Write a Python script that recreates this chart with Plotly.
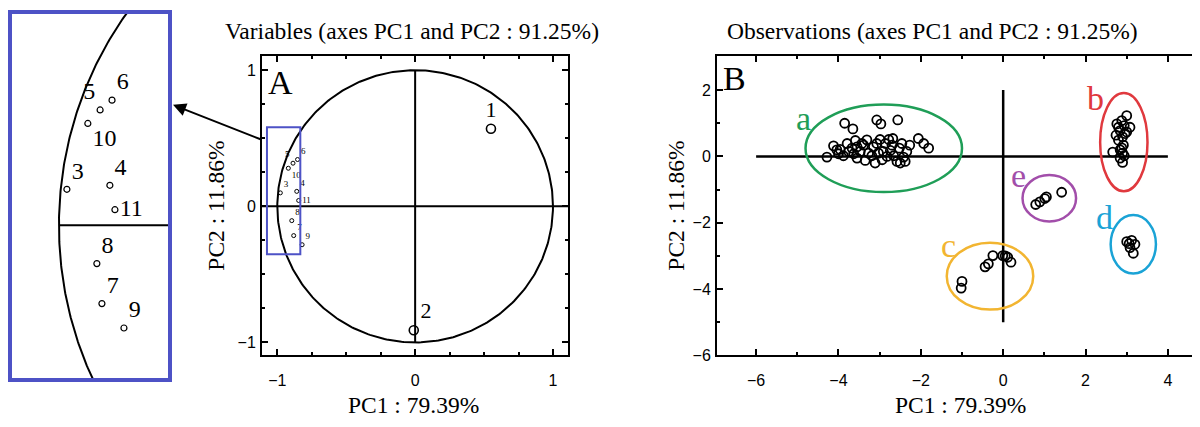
import numpy as np
import plotly.graph_objects as go

# ---------------- data ----------------
# Panel A: variable loadings (PC1, PC2)
var_labels = ["1", "2", "3", "4", "5", "6", "7", "8", "9", "10", "11"]
var_pc1 = [0.55, -0.01, -0.978, -0.859, -0.886, -0.853, -0.881, -0.895, -0.820, -0.920, -0.845]
var_pc2 = [0.57, -0.91, 0.099, 0.110, 0.317, 0.344, -0.215, -0.105, -0.282, 0.280, 0.043]
var_textpos = ["top center", "top right", "top right", "top right", "top left", "top right",
               "top right", "top right", "top right", "bottom right", "middle right"]

# Panel B: observation scores by group
grp_a_x = [-3.85, -3.65, -3.07, -2.97, -2.56, -4.28, -4.12, -3.96, -3.79, -3.67, -3.59, -3.47,
           -3.39, -3.31, -3.27, -3.35, -3.15, -3.11, -3.07, -2.99, -2.94, -2.91, -2.78, -2.68,
           -2.74, -2.58, -2.52, -2.46, -2.42, -2.50, -2.38, -2.27, -2.06, -1.93, -1.81, -4.00,
           -3.88, -3.55, -3.75, -3.63, -3.19, -3.03, -2.82, -2.66, -2.70, -3.43, -4.04, -3.55,
           -2.86, -2.34]
grp_a_y = [1.00, 0.83, 1.10, 0.98, 1.10, -0.02, 0.32, 0.21, 0.39, 0.25, 0.48, 0.15,
           0.34, 0.50, 0.10, -0.12, 0.29, -0.20, 0.39, 0.51, -0.10, 0.15, 0.51, 0.54,
           0.18, -0.15, 0.25, 0.39, -0.02, -0.20, -0.15, 0.34, 0.54, 0.39, 0.25, 0.08,
           0.02, -0.05, 0.15, 0.08, 0.02, 0.10, 0.00, 0.02, 0.34, 0.39, 0.20, 0.29,
           0.39, 0.15]
grp_b_x = [3.00, 2.88, 2.76, 2.94, 3.08, 2.84, 2.96, 2.74, 2.90, 2.80, 2.92, 2.88, 2.84,
           2.66, 2.90, 2.94, 2.84, 2.90, 3.00, 2.80]
grp_b_y = [1.23, 1.08, 0.98, 0.93, 0.88, 0.78, 0.69, 0.64, 0.59, 0.49, 0.34, 0.26, 0.20,
           0.13, 0.10, 0.02, -0.05, -0.18, 0.74, 0.88]
grp_c_x = [-1.00, -1.02, -0.44, -0.36, -0.25, -0.01, 0.11, 0.19, 0.05]
grp_c_y = [-3.77, -3.97, -3.33, -3.24, -2.99, -2.99, -3.04, -3.19, -3.00]
grp_d_x = [3.00, 3.12, 3.20, 3.08, 3.16, 3.06]
grp_d_y = [-2.57, -2.53, -2.65, -2.75, -2.92, -2.63]
grp_e_x = [0.79, 1.01, 1.05, 1.42, 0.89]
grp_e_y = [-1.45, -1.27, -1.22, -1.08, -1.37]

# Group ellipses (centre, radii) and label positions
ell_labels = ["a", "b", "c", "d", "e"]
ell_colors = ["#1f9e57", "#e0393e", "#f2b531", "#1aa3d6", "#a24eaa"]
ell_cx = [-2.90, 2.93, -0.32, 3.16, 1.12]
ell_cy = [0.245, 0.43, -3.61, -2.65, -1.26]
ell_rx = [1.90, 0.575, 1.05, 0.55, 0.65]
ell_ry = [1.32, 1.48, 1.01, 0.88, 0.70]
lab_x = [-4.85, 2.25, -1.33, 2.45, 0.36]
lab_y = [1.15, 1.76, -2.70, -1.85, -0.59]

SERIF = "Liberation Serif, Times New Roman, serif"
SANS = "Liberation Sans, Arial, sans-serif"
BLUE = "#4d52c6"

# the page has an 8px body margin: the figure is sized to end exactly at the window edge
OFF = 8
W, H = 1200 - OFF, 427 - OFF


def px(p):
    return (p - OFF) / W


def py(p):
    return 1 - (p - OFF) / H


fig = go.Figure()

# ---------------- Panel A ----------------
theta = np.linspace(0, 2 * np.pi, 400)
fig.add_trace(go.Scatter(x=np.cos(theta), y=np.sin(theta), mode="lines",
                         line=dict(color="black", width=2), xaxis="x2", yaxis="y2",
                         hoverinfo="skip", showlegend=False))
fig.add_trace(go.Scatter(x=[-1.2, 1.2], y=[0, 0], mode="lines", line=dict(color="black", width=2),
                         xaxis="x2", yaxis="y2", showlegend=False))
fig.add_trace(go.Scatter(x=[0, 0], y=[-1, 1], mode="lines", line=dict(color="black", width=2),
                         xaxis="x2", yaxis="y2", showlegend=False))
fig.add_trace(go.Scatter(x=var_pc1[:2], y=var_pc2[:2], mode="markers+text", text=var_labels[:2],
                         textposition=var_textpos[:2],
                         textfont=dict(family=SERIF, size=22, color="black"),
                         marker=dict(symbol="circle-open", size=9, color="black", line=dict(width=1.6)),
                         xaxis="x2", yaxis="y2", showlegend=False))
fig.add_trace(go.Scatter(x=var_pc1[2:], y=var_pc2[2:], mode="markers+text", text=var_labels[2:],
                         textposition=var_textpos[2:],
                         textfont=dict(family=SERIF, size=9, color="black"),
                         marker=dict(symbol="circle-open", size=4, color="black", line=dict(width=1)),
                         xaxis="x2", yaxis="y2", showlegend=False))
# blue zoom box in A
fig.add_shape(type="rect", xref="x2", yref="y2", x0=-1.075, x1=-0.833, y0=-0.352, y1=0.582,
              line=dict(color=BLUE, width=2))

# ---------------- Inset ----------------
ty = np.linspace(-0.6, 0.7, 200)
fig.add_trace(go.Scatter(x=-np.sqrt(1 - ty ** 2), y=ty, mode="lines",
                         line=dict(color="black", width=2), xaxis="x3", yaxis="y3",
                         hoverinfo="skip", showlegend=False))
fig.add_trace(go.Scatter(x=[-1.0, -0.6], y=[0, 0], mode="lines", line=dict(color="black", width=2),
                         xaxis="x3", yaxis="y3", showlegend=False))
fig.add_trace(go.Scatter(x=var_pc1[2:], y=var_pc2[2:], mode="markers+text", text=var_labels[2:],
                         textposition=var_textpos[2:],
                         textfont=dict(family=SERIF, size=24, color="black"),
                         marker=dict(symbol="circle-open", size=6, color="black", line=dict(width=1.2)),
                         xaxis="x3", yaxis="y3", showlegend=False))

# ---------------- Panel B ----------------
fig.add_trace(go.Scatter(x=[-6, 4], y=[0, 0], mode="lines", line=dict(color="black", width=2.5),
                         xaxis="x", yaxis="y", showlegend=False))
fig.add_trace(go.Scatter(x=[0, 0], y=[-5, 2], mode="lines", line=dict(color="black", width=2.5),
                         xaxis="x", yaxis="y", showlegend=False))
for gx, gy in [(grp_a_x, grp_a_y), (grp_b_x, grp_b_y), (grp_c_x, grp_c_y),
               (grp_d_x, grp_d_y), (grp_e_x, grp_e_y)]:
    fig.add_trace(go.Scatter(x=gx, y=gy, mode="markers",
                             marker=dict(symbol="circle-open", size=9, color="black", line=dict(width=1.8)),
                             xaxis="x", yaxis="y", showlegend=False))
for i, lab in enumerate(ell_labels):
    fig.add_shape(type="circle", xref="x", yref="y",
                  x0=ell_cx[i] - ell_rx[i], x1=ell_cx[i] + ell_rx[i],
                  y0=ell_cy[i] - ell_ry[i], y1=ell_cy[i] + ell_ry[i],
                  line=dict(color=ell_colors[i], width=2.5))
    fig.add_annotation(x=lab_x[i], y=lab_y[i], xref="x", yref="y", text=lab, showarrow=False,
                       xanchor="center", yanchor="middle",
                       font=dict(family=SERIF, size=34, color=ell_colors[i]))

# ---------------- axes ----------------
tick_font = dict(family=SANS, size=16, color="black")
common = dict(showgrid=False, zeroline=False, showline=True, linecolor="black", linewidth=2,
              ticks="inside", ticklen=6, tickwidth=1.5, tickcolor="black", tickfont=tick_font)

fig.update_layout(
    width=W, height=H, margin=dict(l=0, r=0, t=0, b=0),
    plot_bgcolor="white", paper_bgcolor="white", showlegend=False,
    xaxis=dict(domain=[px(717), 1.0], range=[-6.95, 4.78], dtick=2, mirror="allticks", ticklabelstandoff=9,
               minor=dict(dtick=1, ticks="inside", ticklen=3, tickcolor="black"), anchor="y", **common),
    yaxis=dict(domain=[py(363), py(57)], range=[-6.0, 3.03], dtick=2, mirror=False, ticklabelstandoff=1,
               minor=dict(dtick=1, ticks="inside", ticklen=3, tickcolor="black"), anchor="x", **common),
    xaxis2=dict(domain=[px(262), px(568)], range=[-1.111, 1.109], dtick=1, mirror="allticks",
                ticklabelstandoff=9,
                minor=dict(dtick=0.25, ticks="inside", ticklen=3, tickcolor="black"), anchor="y2", **common),
    yaxis2=dict(domain=[py(363), py(57)], range=[-1.095, 1.105], dtick=1, mirror="allticks",
                ticklabelstandoff=1,
                minor=dict(dtick=0.25, ticks="inside", ticklen=3, tickcolor="black"), anchor="x2", **common),
    xaxis3=dict(domain=[px(12), px(168)], range=[-1.130, -0.698], showgrid=False, zeroline=False,
                showticklabels=False, ticks="", showline=True, mirror=True, linecolor=BLUE, linewidth=3.5,
                anchor="y3"),
    yaxis3=dict(domain=[py(386), py(14)], range=[-0.419, 0.581], showgrid=False, zeroline=False,
                showticklabels=False, ticks="", showline=True, mirror=True, linecolor=BLUE, linewidth=3.5,
                anchor="x3"),
)


def note(xp, yp, text, size, angle=0):
    fig.add_annotation(x=px(xp), y=py(yp), xref="paper", yref="paper", text=text, showarrow=False,
                       xanchor="center", yanchor="middle", textangle=angle,
                       font=dict(family=SERIF, size=size, color="black"))


# panel letters
note(280, 84, "A", 34)
note(734, 80, "B", 34)

# titles and axis titles
note(412, 31, "Variables (axes PC1 and PC2 : 91.25%)", 23.5)
note(932, 31, "Observations (axes PC1 and PC2 : 91.25%)", 23.5)
note(413, 414, "PC1 : 79.39%", 23.5)
note(960, 414, "PC1 : 79.39%", 23.5)
note(216, 210, "PC2 : 11.86%", 23.5, -90)
note(676, 210, "PC2 : 11.86%", 23.5, -90)

# arrow from panel A to inset (tail offset given in pixels)
fig.add_annotation(x=px(173), y=py(107), xref="paper", yref="paper",
                   ax=89, ay=35, axref="pixel", ayref="pixel",
                   showarrow=True, arrowhead=2, arrowsize=1.3, arrowwidth=2, arrowcolor="black", text="")

fig.write_html("out.html")
